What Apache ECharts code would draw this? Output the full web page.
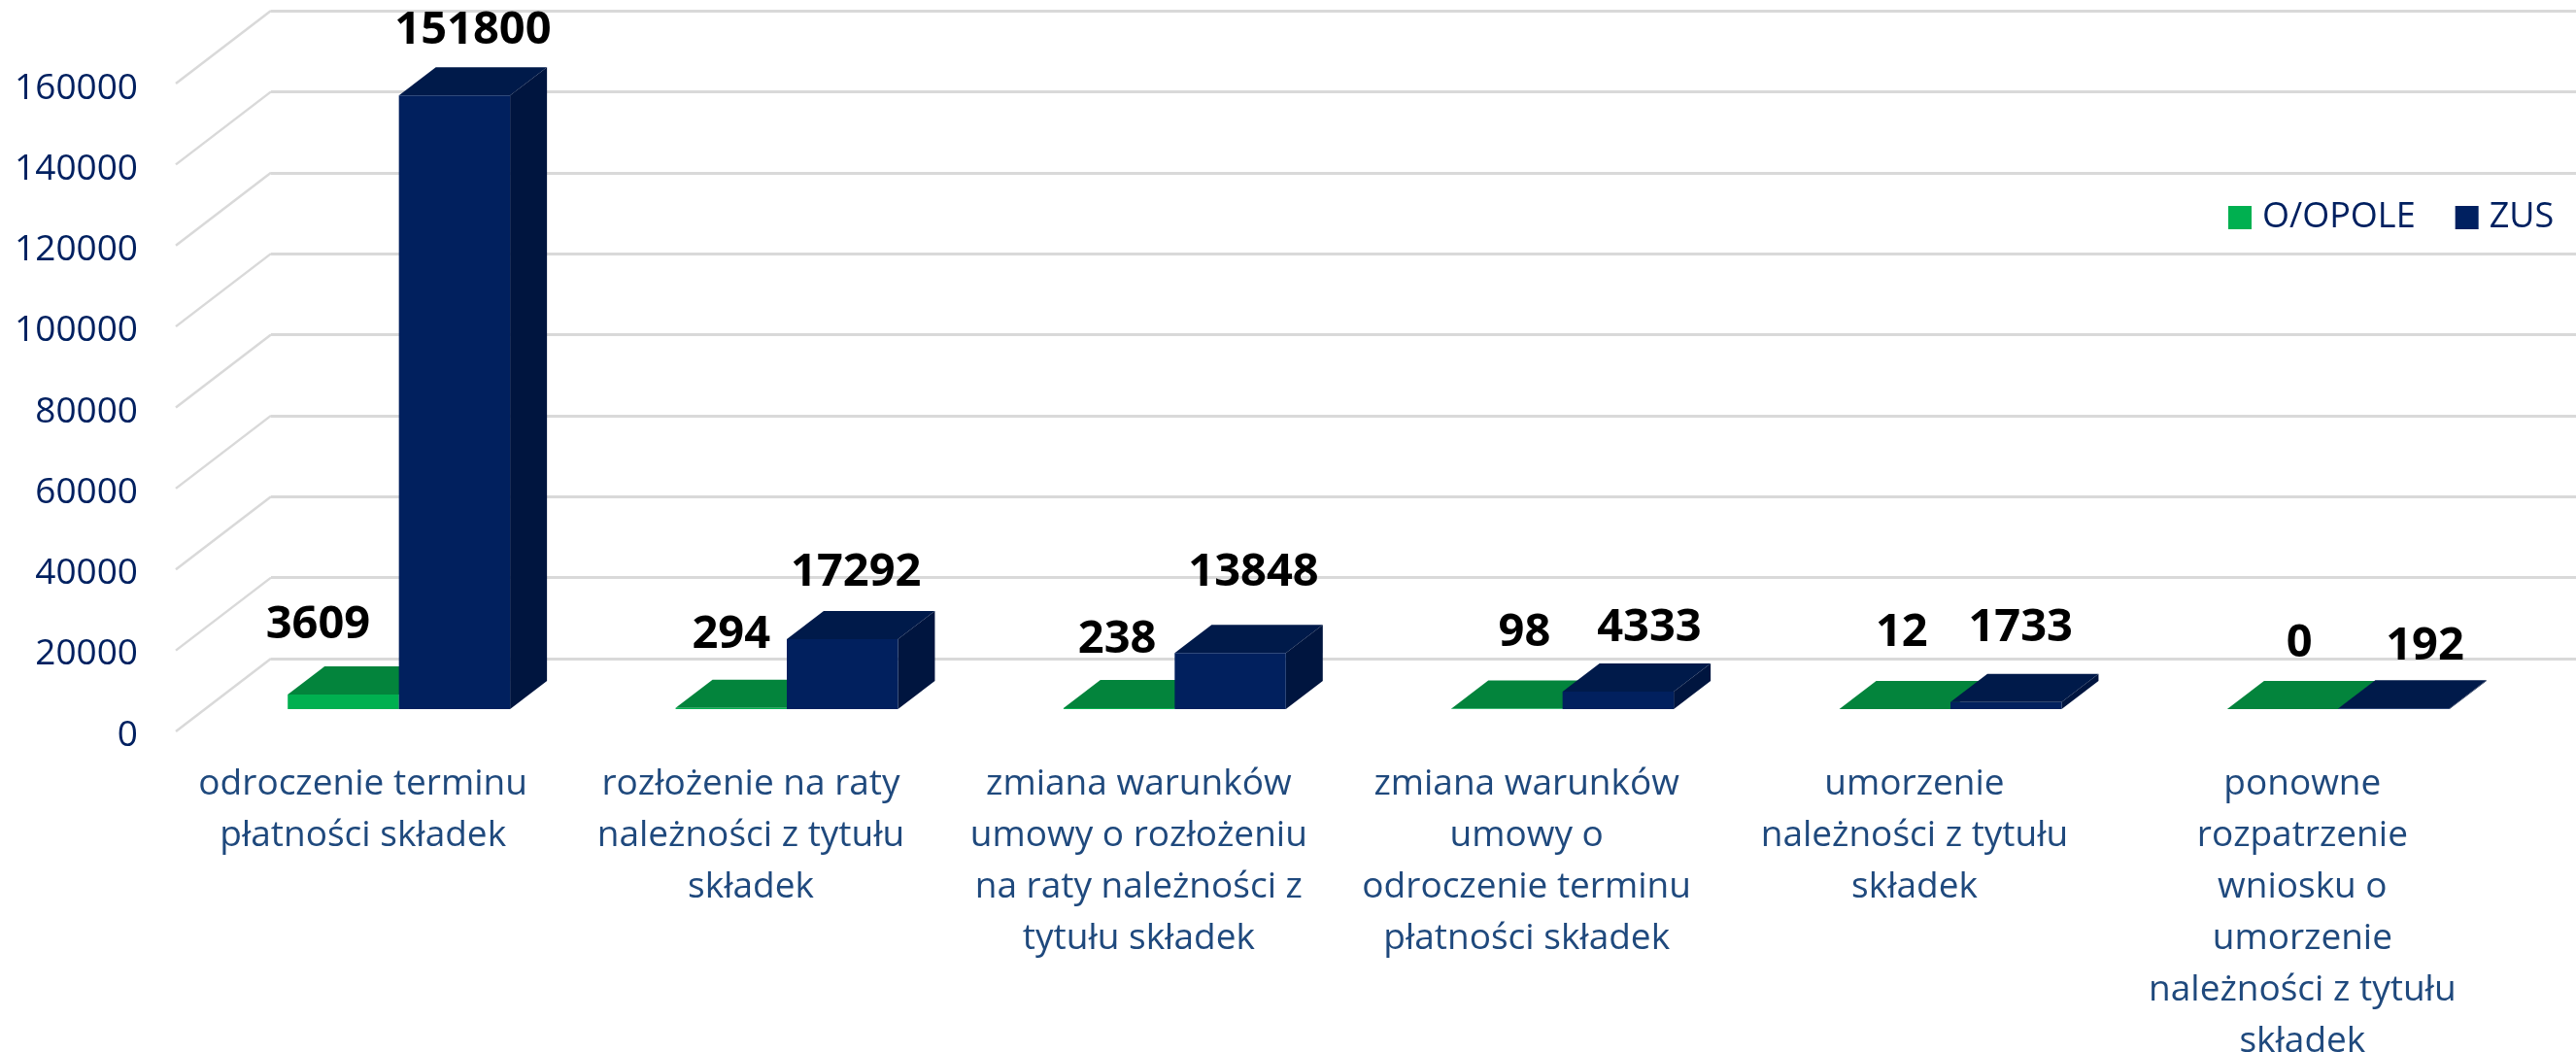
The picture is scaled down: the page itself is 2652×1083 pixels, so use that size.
<!DOCTYPE html>
<html>
<head>
<meta charset="utf-8">
<style>
html, body { margin: 0; padding: 0; background: #fff; overflow: hidden; }
#chart { width: 2652px; height: 1083px; }
</style>
<script src="https://cdn.jsdelivr.net/npm/echarts@6/dist/echarts.min.js"></script>
</head>
<body>
<div id="chart"></div>
<script>
const categories = [
    'odroczenie terminu\npłatności składek',
    'rozłożenie na raty\nnależności z tytułu\nskładek',
    'zmiana warunków\numowy o rozłożeniu\nna raty należności z\ntytułu składek',
    'zmiana warunków\numowy o\nodroczenie terminu\npłatności składek',
    'umorzenie\nnależności z tytułu\nskładek',
    'ponowne\nrozpatrzenie\nwniosku o\numorzenie\nnależności z tytułu\nskładek'
]
const opole = [3609, 294, 238, 98, 12, 0]
const zus = [151800, 17292, 13848, 4333, 1733, 192]
const wallTicks = [0, 20000, 40000, 60000, 80000, 100000, 120000, 140000, 160000]

// label nudges in px from the top-centre of each bar
const opoleNudge = [[-26, -42], [0, -46], [-2, -41], [18, -49], [7, -49], [17, -38]]
const zusNudge = [[19, -38], [14, -39], [24, -54], [32, -36], [15, -47], [32, -35]]

const font = '"Open Sans", sans-serif'
const depthX = 38
const depthY = 29
const barShare = 0.2866

const drawBar = (side, front, top, dark, nudges) => (params, api) => {
    const i = api.value(0)
    const value = api.value(1)
    const base = api.coord([i, 0])
    const head = api.coord([i, value])
    const w = api.size([1, 0])[0] * barShare
    const x0 = side < 0 ? base[0] - w : base[0]
    const x1 = x0 + w
    const shapes = [
        { type: 'polygon', shape: { points: [[x0, head[1]], [x1, head[1]], [x1 + depthX, head[1] - depthY], [x0 + depthX, head[1] - depthY]] }, style: { fill: top } },
        { type: 'polygon', shape: { points: [[x1, base[1]], [x1 + depthX, base[1] - depthY], [x1 + depthX, head[1] - depthY], [x1, head[1]]] }, style: { fill: dark } },
        { type: 'rect', shape: { x: x0, y: head[1], width: w, height: base[1] - head[1] }, style: { fill: front } },
        {
            type: 'text',
            style: {
                x: (x0 + x1) / 2 + nudges[i][0],
                y: head[1] - depthY + nudges[i][1],
                text: String(value),
                fill: '#000',
                font: 'bold 47px ' + font,
                textAlign: 'center',
                textVerticalAlign: 'middle'
            }
        }
    ]
    return { type: 'group', children: shapes }
}

const chart = echarts.init(document.getElementById('chart'), null, { renderer: 'canvas' })

chart.setOption({
    animation: false,
    backgroundColor: '#fff',
    legend: {
        left: 2289,
        top: 201,
        itemWidth: 24,
        itemHeight: 24,
        itemGap: 41,
        icon: 'rect',
        data: ['O/OPOLE', 'ZUS'],
        textStyle: { color: '#002060', fontSize: 36, fontFamily: font, padding: [0, 0, 0, 6] }
    },
    grid: [
        { left: 279, top: 11, right: 0, height: 667, outerBoundsMode: 'none' },   // back wall
        { left: 174, top: 91, width: 2396, height: 666, outerBoundsMode: 'none' }, // front plane, carries the axis labels
        { left: 211, top: 64, width: 2396, height: 666, outerBoundsMode: 'none' }  // bars
    ],
    xAxis: [
        { gridIndex: 0, type: 'value', min: 0, max: 1, show: false },
        {
            gridIndex: 1,
            type: 'category',
            data: categories,
            axisLine: { show: false },
            axisTick: { show: false },
            axisLabel: { interval: 0, margin: 24, color: '#1F497D', fontSize: 37, lineHeight: 53, fontFamily: font, align: 'center', verticalAlign: 'top' }
        },
        { gridIndex: 2, type: 'category', data: categories, show: false }
    ],
    yAxis: [
        {
            gridIndex: 0,
            type: 'value',
            min: 0,
            max: 160000,
            interval: 20000,
            axisLine: { show: false },
            axisTick: { show: false },
            axisLabel: { show: false },
            splitLine: { lineStyle: { color: '#D9D9D9', width: 3 } }
        },
        {
            gridIndex: 1,
            type: 'value',
            min: 0,
            max: 160000,
            interval: 20000,
            axisLine: { show: false },
            axisTick: { show: false },
            splitLine: { show: false },
            axisLabel: { margin: 32, color: '#002060', fontSize: 37, fontFamily: font, formatter: (v) => String(v) }
        },
        { gridIndex: 2, type: 'value', min: 0, max: 160000, show: false }
    ],
    series: [
        {
            type: 'custom',
            xAxisIndex: 0,
            yAxisIndex: 0,
            data: wallTicks.map((v) => [0, v]),
            silent: true,
            clip: false,
            renderItem: (params, api) => {
                const p = api.coord([0, api.value(1)])
                return {
                    type: 'line',
                    shape: { x1: p[0], y1: p[1], x2: p[0] - 98, y2: p[1] + 75 },
                    style: { stroke: '#D9D9D9', lineWidth: 2.5 }
                }
            }
        },
        {
            name: 'O/OPOLE',
            type: 'custom',
            xAxisIndex: 2,
            yAxisIndex: 2,
            itemStyle: { color: '#00B050' },
            data: opole.map((v, i) => [i, v]),
            clip: false,
            renderItem: drawBar(-1, '#00B050', '#03843C', '#03843C', opoleNudge)
        },
        {
            name: 'ZUS',
            type: 'custom',
            xAxisIndex: 2,
            yAxisIndex: 2,
            itemStyle: { color: '#002060' },
            data: zus.map((v, i) => [i, v]),
            clip: false,
            renderItem: drawBar(1, '#01205E', '#001A4A', '#00153F', zusNudge)
        }
    ]
})
</script>
</body>
</html>
